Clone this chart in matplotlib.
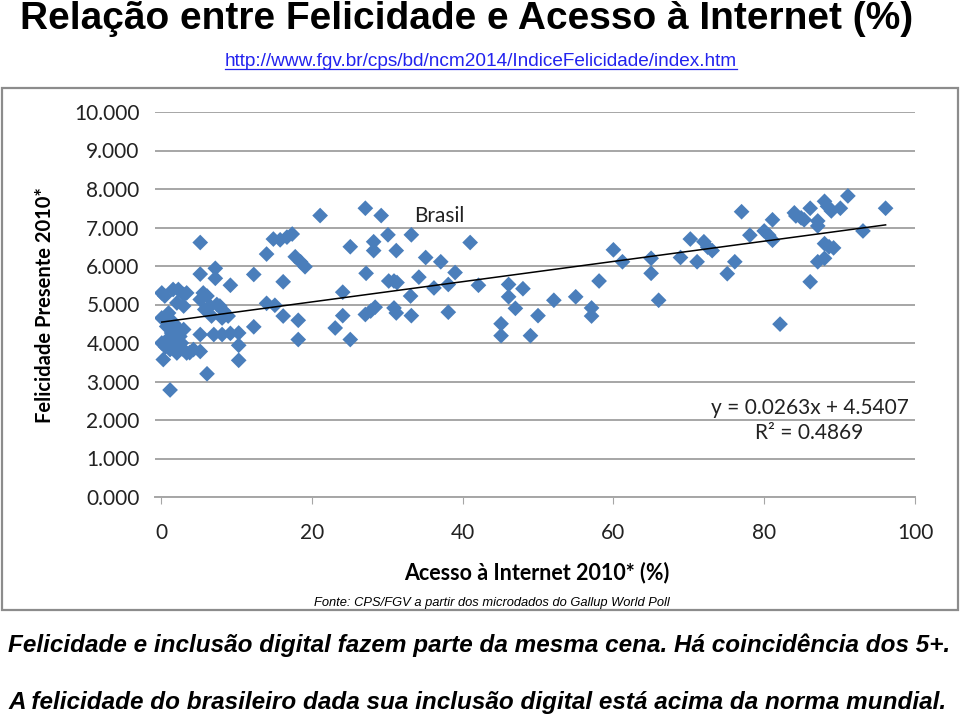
import numpy as np
import matplotlib.pyplot as plt
from matplotlib.patches import Rectangle

# Acesso a Internet 2010* (%) x Felicidade Presente 2010*
acesso = [21.1, 5.2, 14.0, 14.9, 15.8, 16.7, 17.4, 17.8, 18.5, 19.1, 5.2, 7.2, 7.2, 9.2, 12.3, 16.2,
          14.0, 15.1, 16.2, 18.2, 18.2, 12.3, 10.3, 10.3, 10.3, 9.2, 8.1, 7.0, 5.2, 6.1, 1.2,
          0.1, 0.5, 1.6, 2.3, 3.0, 3.4, 2.1, 3.0, 0.1, 0.75, 1.4, 1.6, 2.5, 0.1, 0.3, 1.2, 2.1,
          3.4, 4.3, 5.2, 2.7, 3.0, 1.6, 1.0, 5.2, 5.6, 6.1, 5.8, 6.5, 7.4, 7.8, 8.3, 8.9, 8.1, 6.7,
          0.6, 1.8, 2.2, 0.9, 1.3, 2.8, 3.8,
          27.1, 29.2, 25.1, 28.2, 28.2, 30.1, 31.2, 33.2, 35.1, 37.1, 41.0, 27.2, 30.2, 30.9, 31.3,
          34.2, 36.2, 38.1, 39.0, 42.1, 24.1, 33.1, 24.1, 23.1, 25.1, 27.1, 27.8, 28.4, 30.9, 31.2,
          33.2, 38.1,
          46.1, 46.1, 48.0, 47.0, 45.1, 45.1, 49.0, 50.0, 52.1, 55.0, 57.1, 57.1, 58.1, 60.0, 61.2,
          65.0, 65.0, 66.0, 68.9,
          70.2, 71.1, 72.0, 72.5, 73.1, 75.1, 76.1, 77.0, 78.1, 80.0, 80.6, 81.1, 81.1, 82.1, 84.0,
          84.2, 84.9, 85.3, 86.1, 86.1, 87.1, 87.1, 88.0, 88.4, 88.9, 88.0, 88.6, 89.2, 87.1, 88.0,
          90.1, 91.1, 93.1, 96.1]
felicidade = [7.31, 6.61, 6.31, 6.70, 6.68, 6.75, 6.83, 6.24, 6.11, 5.98, 5.79, 5.94, 5.68, 5.50, 5.78, 5.59,
              5.03, 4.98, 4.70, 4.59, 4.09, 4.42, 4.26, 3.94, 3.55, 4.25, 4.22, 4.22, 4.22, 3.20, 2.78,
              5.30, 5.22, 5.39, 5.39, 5.26, 5.30, 5.04, 4.96, 4.65, 4.43, 4.26, 4.09, 4.17, 4.00, 3.57, 3.83, 3.74,
              3.74, 3.83, 3.78, 4.00, 4.35, 4.52, 4.78, 5.13, 5.30, 5.22, 4.87, 4.96, 5.00, 4.96, 4.83, 4.70, 4.65, 4.70,
              3.90, 3.95, 4.40, 4.10, 4.60, 3.85, 3.75,
              7.50, 7.31, 6.50, 6.63, 6.40, 6.81, 6.40, 6.81, 6.22, 6.11, 6.61, 5.81, 5.61, 5.61, 5.57,
              5.71, 5.43, 5.52, 5.83, 5.50, 5.32, 5.22, 4.71, 4.39, 4.09, 4.74, 4.83, 4.93, 4.91, 4.78,
              4.71, 4.80,
              5.52, 5.20, 5.41, 4.90, 4.50, 4.19, 4.19, 4.71, 5.11, 5.20, 4.91, 4.70, 5.61, 6.42, 6.11,
              6.20, 5.81, 5.11, 6.22,
              6.70, 6.11, 6.63, 6.49, 6.40, 5.80, 6.11, 7.41, 6.80, 6.91, 6.80, 6.67, 7.20, 4.49, 7.38,
              7.30, 7.25, 7.20, 7.50, 5.59, 7.17, 7.04, 7.68, 7.55, 7.43, 6.58, 6.50, 6.47, 6.11, 6.20,
              7.50, 7.82, 6.91, 7.50]

slope = 0.0263
intercept = 4.5407
r2 = 0.4869
yticks = [0, 1, 2, 3, 4, 5, 6, 7, 8, 9, 10]
xticks = [0, 20, 40, 60, 80, 100]

W, H = 960, 720
fig = plt.figure(figsize=(9.6, 7.2), dpi=100)

# outer frame round the chart image
fig.patches.append(Rectangle((2 / W, 1 - 610 / H), 956 / W, 522 / H, transform=fig.transFigure,
                             fill=False, edgecolor='#8c8c8c', lw=1.6))

ax = fig.add_axes([155 / W, 1 - 497 / H, 760 / W, 385 / H])
ax.scatter(acesso, felicidade, marker='D', s=64, color='#4a7ebb', edgecolors='none', zorder=3)

xs = np.array([min(acesso), max(acesso)])
ax.plot(xs, slope * xs + intercept, color='black', lw=1.1, zorder=4)

ax.set_xlim(-0.8, 100)
ax.set_ylim(0, 10)
ax.set_yticks(yticks)
ax.set_yticklabels([f'{v:.3f}' for v in yticks])
ax.set_xticks(xticks)
ax.yaxis.grid(True, color='#a6a6a6', lw=1.4)
ax.set_axisbelow(True)
for s in ['top', 'right', 'left']:
    ax.spines[s].set_visible(False)
ax.spines['bottom'].set_color('#a6a6a6')
ax.spines['bottom'].set_linewidth(1.4)
ax.tick_params(axis='y', length=0, pad=11, labelsize=15, labelcolor='#222222')
ax.tick_params(axis='x', length=5, color='#a6a6a6', pad=14, labelsize=15, labelcolor='#222222')
for lab in ax.get_xticklabels() + ax.get_yticklabels():
    lab.set_fontfamily('Lato')

ax.text(33.6, 7.3, 'Brasil', fontsize=15, fontfamily='Lato', va='center', ha='left', color='#222222')
ax.text(86.0, 2.31, f'y = {slope}x + {intercept}', fontsize=15, fontfamily='Lato',
        ha='center', va='center', color='#222222')
ax.text(86.0, 1.66, f'R² = {r2}', fontsize=15, fontfamily='Lato', ha='center', va='center', color='#222222')

fig.text(45 / W, 1 - 305 / H, 'Felicidade Presente 2010*', rotation=90, fontsize=14.5,
         fontweight='bold', fontfamily='Lato', ha='center', va='center')
fig.text(537 / W, 1 - 573 / H, 'Acesso à Internet 2010* (%)', fontsize=15.5,
         fontweight='bold', fontfamily='Lato', ha='center', va='center')

fig.text(467 / W, 1 - 19 / H, 'Relação entre Felicidade e Acesso à Internet (%)', fontsize=28,
         fontweight='bold', fontfamily='Liberation Sans', ha='center', va='center')
url = fig.text(481 / W, 1 - 62 / H, 'http://www.fgv.br/cps/bd/ncm2014/IndiceFelicidade/index.htm',
               fontsize=13.7, color='#2323ee', fontfamily='Liberation Sans', ha='center', va='center')

fig.text(492 / W, 1 - 603 / H, 'Fonte: CPS/FGV a partir dos microdados do Gallup World Poll',
         fontsize=9.3, style='italic', fontfamily='Liberation Sans', ha='center', va='center')
fig.text(8 / W, 1 - 645 / H,
         'Felicidade e inclusão digital fazem parte da mesma cena. Há coincidência dos 5+.',
         fontsize=17.5, fontweight='bold', style='italic', fontfamily='Liberation Sans', ha='left', va='center')
fig.text(8 / W, 1 - 703 / H,
         'A felicidade do brasileiro dada sua inclusão digital está acima da norma mundial.',
         fontsize=17.5, fontweight='bold', style='italic', fontfamily='Liberation Sans', ha='left', va='center')

# underline the link
r = fig.canvas.get_renderer()
bb = url.get_window_extent(r).transformed(fig.transFigure.inverted())
fig.add_artist(plt.Line2D([bb.x0, bb.x1], [bb.y0 + 0.002, bb.y0 + 0.002], color='#2323ee', lw=0.9))

plt.savefig('out.png')
